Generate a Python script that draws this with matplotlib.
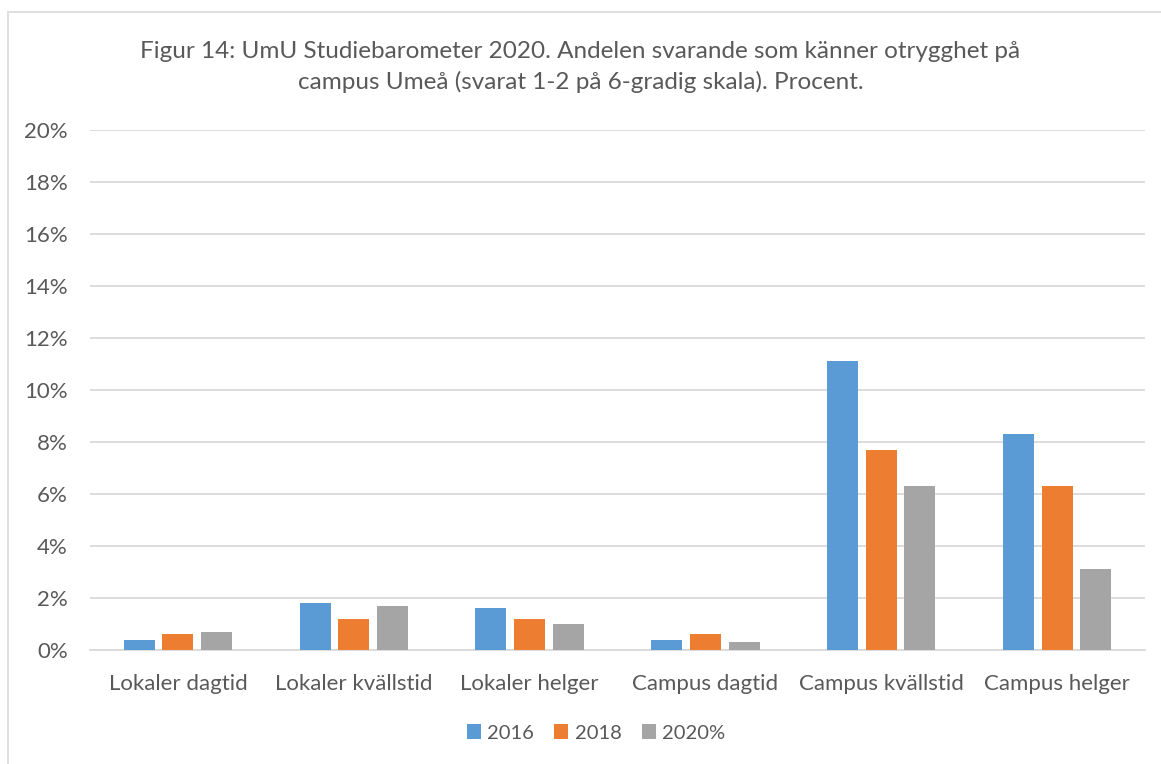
import matplotlib
matplotlib.use("Agg")
import matplotlib.pyplot as plt
import numpy as np
from matplotlib.patches import Rectangle

categories = ["Lokaler dagtid", "Lokaler kvällstid", "Lokaler helger",
              "Campus dagtid", "Campus kvällstid", "Campus helger"]
series_names = ["2016", "2018", "2020%"]
v2016 = [0.4, 1.8, 1.6, 0.4, 11.1, 8.3]
v2018 = [0.6, 1.2, 1.2, 0.6, 7.7, 6.3]
v2020 = [0.7, 1.7, 1.0, 0.3, 6.3, 3.1]
colors = ["#5b9bd5", "#ed7d31", "#a5a5a5"]
yticks = [0, 2, 4, 6, 8, 10, 12, 14, 16, 18, 20]
title = ("Figur 14: UmU Studiebarometer 2020. Andelen svarande som känner otrygghet på\n"
         "campus Umeå (svarat 1-2 på 6-gradig skala). Procent.")

plt.rcParams['font.family'] = ['Lato', 'DejaVu Sans']
txt = "#595959"

fig = plt.figure(figsize=(11.61, 7.64), dpi=100)
W, H = 1161, 764
# chart border
fig.patches.append(Rectangle((8 / W, -0.1), 1.2, (H - 12) / H + 0.1, transform=fig.transFigure,
                             fill=False, edgecolor="#d9d9d9", linewidth=1.2))

ax = fig.add_axes([90 / W, (H - 650) / H, (1145 - 90) / W, (650 - 130) / H])
x = np.arange(len(categories))
bw = 0.176
step = 0.22
for i, (vals, c, n) in enumerate(zip([v2016, v2018, v2020], colors, series_names)):
    ax.bar(x + (i - 1) * step, vals, width=bw, color=c, label=n, zorder=3)

ax.set_ylim(0, 20)
ax.set_xlim(-0.5, len(categories) - 0.5)
ax.set_yticks(yticks)
ax.set_yticklabels([f"{t}%" for t in yticks])
ax.set_xticks(x)
ax.set_xticklabels(categories)
ax.grid(axis="y", color="#d9d9d9", linewidth=1.3, zorder=0)
for s in ["top", "right", "left"]:
    ax.spines[s].set_visible(False)
ax.spines["bottom"].set_color("#d9d9d9")
ax.spines["bottom"].set_linewidth(1.3)
ax.tick_params(axis="both", length=0, labelsize=16, colors=txt)
ax.tick_params(axis="y", pad=16)
ax.tick_params(axis="x", pad=17)

fig.text(0.5, (H - 67) / H, title, ha="center", va="center", fontsize=17.5,
         color=txt, linespacing=1.5)

leg = fig.legend(loc="center", bbox_to_anchor=(596 / W, (H - 733) / H), ncol=3,
                 frameon=False, fontsize=14.5, handlelength=0.7, handleheight=0.7,
                 columnspacing=1.0, handletextpad=0.3)
for t in leg.get_texts():
    t.set_color(txt)

fig.savefig("out.png", dpi=100)
